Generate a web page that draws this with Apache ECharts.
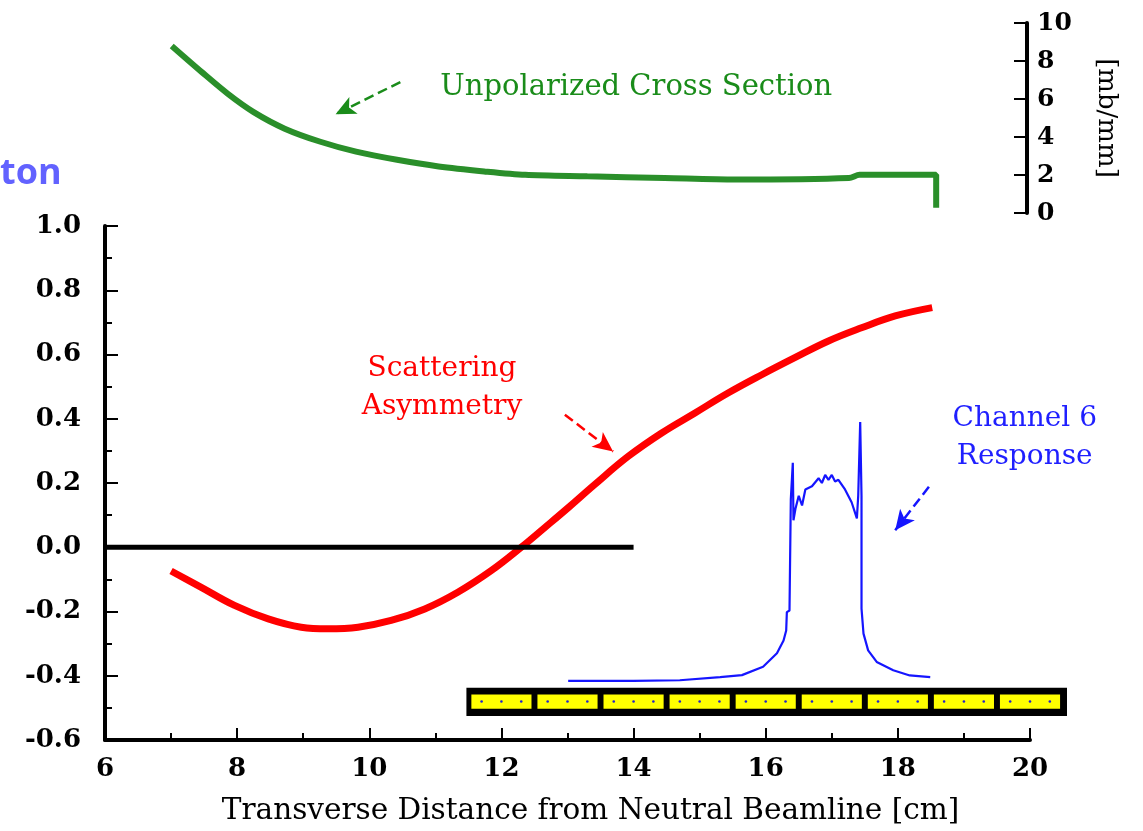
<!DOCTYPE html>
<html><head><meta charset="utf-8">
<script src="https://cdn.jsdelivr.net/npm/echarts@6/dist/echarts.min.js"></script>
<style>html,body{margin:0;padding:0;background:#fff}#c{width:1143px;height:831px}</style>
</head><body><div id="c"></div>
<script>
// Scattering asymmetry (red), main axis
const asymX = [7.0, 7.45, 7.96, 8.47, 8.97, 9.37, 9.83, 10.33, 10.84, 11.34, 11.85, 12.30, 12.66, 13.01, 13.41, 13.92, 14.42, 14.93, 15.43, 15.94, 16.44, 16.95, 17.45, 17.96, 18.52];
const asymY = [-0.074, -0.124, -0.181, -0.223, -0.249, -0.254, -0.249, -0.228, -0.192, -0.14, -0.072, 0.0, 0.062, 0.123, 0.195, 0.283, 0.355, 0.418, 0.48, 0.537, 0.59, 0.642, 0.683, 0.72, 0.746];
// Unpolarized cross section (green), mb/mm
const csX = [7.01, 7.47, 7.86, 8.25, 8.72, 9.26, 9.80, 10.42, 11.05, 11.74, 12.36, 13.30, 14.47, 15.55, 17.26, 17.42, 18.58, 18.58];
const csY = [8.79, 7.40, 6.27, 5.31, 4.44, 3.75, 3.23, 2.80, 2.45, 2.19, 2.01, 1.93, 1.84, 1.76, 1.84, 2.01, 2.01, 0.28];
// Channel 6 response (blue)
const chX = [13.01, 14.0, 14.70, 15.31, 15.64, 15.96, 16.17, 16.27, 16.31, 16.32, 16.36, 16.38, 16.41, 16.42, 16.45, 16.5, 16.55, 16.6, 16.7, 16.8, 16.85, 16.9, 16.95, 17.0, 17.05, 17.1, 17.2, 17.3, 17.38, 17.40, 17.43, 17.45, 17.45, 17.48, 17.55, 17.68, 17.93, 18.18, 18.49];
const chY = [-0.416, -0.416, -0.414, -0.404, -0.398, -0.372, -0.330, -0.290, -0.259, -0.202, -0.197, 0.15, 0.263, 0.084, 0.12, 0.16, 0.13, 0.18, 0.19, 0.215, 0.20, 0.225, 0.21, 0.225, 0.205, 0.21, 0.18, 0.14, 0.09, 0.16, 0.39, 0.16, -0.191, -0.269, -0.321, -0.357, -0.383, -0.399, -0.404];
// Zero reference line
const zeroX = [6, 14];
const zeroY = [0, 0];
// Detector: outer extent and cell centres (cm)
const detectorExtent = [11.47, 20.56];
const detectorCells = [12, 13, 14, 15, 16, 17, 18, 19, 20];
// Tick settings
const xTicks = {min: 6, max: 20, interval: 2};
const asymTicks = {min: -0.6, max: 1.0, interval: 0.2};
const csTicks = {min: 0, max: 10, interval: 2};

const zip = (xs, ys) => xs.map((x, i) => [x, ys[i]]);
const serif = 'DejaVu Serif';
const barTop = -0.4375, barBottom = -0.525, cellTop = -0.458, cellBottom = -0.503, dotY = -0.48;
const cellHalf = 0.455, dotOffsets = [-0.3, 0, 0.3];

const chart = echarts.init(document.getElementById('c'));
const tickLabel = {color: '#000', fontFamily: serif, fontWeight: 'bold', fontSize: 26};
chart.setOption({
  animation: false,
  backgroundColor: '#fff',
  grid: [
    {left: 105, right: 113, top: 226, height: 514},
    {left: 105, right: 113, top: 23, height: 190}
  ],
  xAxis: [
    {gridIndex: 0, type: 'value', min: xTicks.min, max: xTicks.max, interval: xTicks.interval,
     axisLine: {onZero: false, lineStyle: {color: '#000', width: 4}},
     axisTick: {inside: true, length: 12, lineStyle: {color: '#000', width: 2}},
     minorTick: {show: true, splitNumber: 2, length: 7, lineStyle: {color: '#000', width: 2}},
     splitLine: {show: false},
     axisLabel: Object.assign({margin: 16}, tickLabel),
     name: 'Transverse Distance from Neutral Beamline [cm]', nameLocation: 'middle', nameGap: 56,
     nameTextStyle: {color: '#000', fontFamily: serif, fontSize: 29.5, padding: [0, 0, 0, 46]}},
    {gridIndex: 1, type: 'value', min: xTicks.min, max: xTicks.max, show: false}
  ],
  yAxis: [
    {gridIndex: 0, type: 'value', min: asymTicks.min, max: asymTicks.max, interval: asymTicks.interval,
     axisLine: {onZero: false, lineStyle: {color: '#000', width: 4}},
     axisTick: {inside: true, length: 13, lineStyle: {color: '#000', width: 2}},
     minorTick: {show: true, splitNumber: 2, length: 7, lineStyle: {color: '#000', width: 2}},
     splitLine: {show: false},
     axisLabel: Object.assign({margin: 24, formatter: v => v.toFixed(1)}, tickLabel)},
    {gridIndex: 1, type: 'value', position: 'right', offset: -3, min: csTicks.min, max: csTicks.max, interval: csTicks.interval,
     axisLine: {onZero: false, lineStyle: {color: '#000', width: 4}},
     axisTick: {inside: true, length: 13, lineStyle: {color: '#000', width: 2}},
     splitLine: {show: false},
     axisLabel: Object.assign({margin: 10}, tickLabel, {fontSize: 25}),
     name: '[mb/mm]', nameLocation: 'middle', nameRotate: -90, nameGap: 66,
     nameTextStyle: {color: '#000', fontFamily: serif, fontSize: 26}}
  ],
  series: [
    {type: 'line', xAxisIndex: 1, yAxisIndex: 1, data: zip(csX, csY), symbol: 'none', smooth: 0.3,
     lineStyle: {color: '#2a8f2a', width: 6}, z: 3,
     markPoint: {symbol: 'circle', symbolSize: 0, silent: true,
       data: [{coord: [14.04, 6.6], label: {show: true, position: 'inside', formatter: 'Unpolarized Cross Section', color: '#1a8c1a', fontFamily: serif, fontSize: 29}}]},
     markLine: {symbol: ['none', 'arrow'], symbolSize: [14, 20], silent: true, label: {show: false},
       lineStyle: {type: 'dashed', width: 2.5, color: '#1a8c1a'},
       data: [[{coord: [10.47, 6.89]}, {coord: [9.49, 5.2]}]]}},
    {type: 'line', xAxisIndex: 0, yAxisIndex: 0, data: zip(asymX, asymY), symbol: 'none', smooth: 0.4,
     lineStyle: {color: '#ff0000', width: 7}, z: 3,
     markPoint: {symbol: 'circle', symbolSize: 0, silent: true,
       data: [{coord: [11.1, 0.497], label: {show: true, position: 'inside', formatter: 'Scattering\nAsymmetry', color: '#ff0000', fontFamily: serif, fontSize: 28, lineHeight: 38}}]},
     markLine: {symbol: ['none', 'arrow'], symbolSize: [14, 20], silent: true, label: {show: false},
       lineStyle: {type: 'dashed', width: 2.5, color: '#ff0000'},
       data: [[{coord: [12.96, 0.4125]}, {coord: [13.69, 0.298]}]]}},
    {type: 'line', xAxisIndex: 0, yAxisIndex: 0, data: zip(zeroX, zeroY), symbol: 'none',
     lineStyle: {color: '#000', width: 5}, z: 4},
    {type: 'custom', xAxisIndex: 0, yAxisIndex: 0, clip: false, z: 2,
     data: [[detectorExtent[0], detectorExtent[1], barTop, barBottom]], encode: {x: [0, 1], y: [2, 3]},
     renderItem: function (params, api) {
       const p0 = api.coord([api.value(0), api.value(2)]);
       const p1 = api.coord([api.value(1), api.value(3)]);
       return {type: 'rect', shape: {x: p0[0], y: p0[1], width: p1[0] - p0[0], height: p1[1] - p0[1]}, style: {fill: '#000'}};
     }},
    {type: 'custom', xAxisIndex: 0, yAxisIndex: 0, clip: false, z: 3,
     data: detectorCells.map(c => [c, cellTop]), encode: {x: 0, y: 1},
     renderItem: function (params, api) {
       const c = api.value(0);
       const p0 = api.coord([c - cellHalf, cellTop]);
       const p1 = api.coord([c + cellHalf, cellBottom]);
       const children = [{type: 'rect', shape: {x: p0[0], y: p0[1], width: p1[0] - p0[0], height: p1[1] - p0[1]}, style: {fill: '#ffff00'}}];
       dotOffsets.forEach(o => {
         const d = api.coord([c + o, dotY]);
         children.push({type: 'circle', shape: {cx: d[0], cy: d[1], r: 1.3}, style: {fill: '#2222cc'}});
       });
       return {type: 'group', children: children};
     }},
    {type: 'line', xAxisIndex: 0, yAxisIndex: 0, data: zip(chX, chY), symbol: 'none',
     lineStyle: {color: '#1515ff', width: 2.2}, z: 5,
     markPoint: {symbol: 'circle', symbolSize: 0, silent: true,
       data: [{coord: [19.92, 0.342], label: {show: true, position: 'inside', formatter: 'Channel 6\nResponse', color: '#1f1fff', fontFamily: serif, fontSize: 28, lineHeight: 38}}]},
     markLine: {symbol: ['none', 'arrow'], symbolSize: [14, 20], silent: true, label: {show: false},
       lineStyle: {type: 'dashed', width: 2.5, color: '#1515ff'},
       data: [[{coord: [18.47, 0.188]}, {coord: [17.96, 0.053]}]]}}
  ],
  graphic: [
    {type: 'text', left: 0, top: 156, style: {text: 'ton', fill: '#6262ff', font: 'bold 36px "Open Sans"'}}
  ]
});
</script>
</body></html>
